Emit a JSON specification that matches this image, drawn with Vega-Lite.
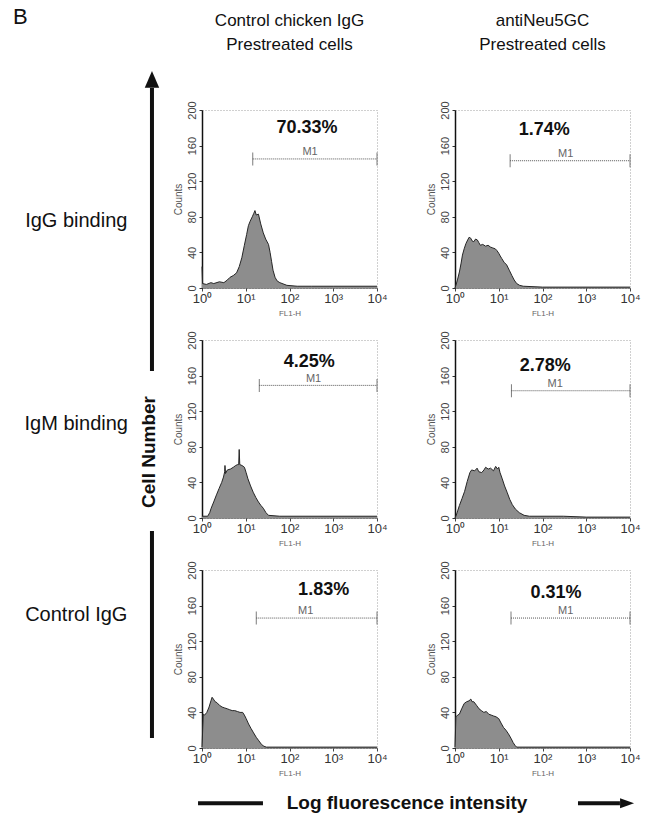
{
"$schema": "https://vega.github.io/schema/vega-lite/v6.json",
"background": "white",
"padding": {"left": 13, "top": 6, "right": 3, "bottom": 2},
"config": {"font": "Liberation Sans", "view": {"stroke": "#a0a0a0", "strokeDash": [1, 2]}, "axis": {"grid": false, "labelOverlap": false, "tickCount": 10}},
"datasets": {
"hist": [
{"p":1,"fl":1,"n":24},{"p":1,"fl":1.03,"n":5},{"p":1,"fl":1.26,"n":4},{"p":1,"fl":1.6,"n":6},{"p":1,"fl":1.86,"n":5},{"p":1,"fl":2.5,"n":7},{"p":1,"fl":3.16,"n":6},{"p":1,"fl":3.8,"n":9},{"p":1,"fl":4.37,"n":12},{"p":1,"fl":5.2,"n":14},{"p":1,"fl":6.17,"n":17},{"p":1,"fl":7.1,"n":24},{"p":1,"fl":8.13,"n":34},{"p":1,"fl":9.3,"n":48},{"p":1,"fl":10.47,"n":60},{"p":1,"fl":11.5,"n":70},{"p":1,"fl":12.59,"n":75},{"p":1,"fl":14.1,"n":80},{"p":1,"fl":15.3,"n":84},{"p":1,"fl":16.22,"n":87},{"p":1,"fl":17.4,"n":82},{"p":1,"fl":19.5,"n":83},{"p":1,"fl":22,"n":72},{"p":1,"fl":25.12,"n":62},{"p":1,"fl":28.5,"n":55},{"p":1,"fl":33.11,"n":49},{"p":1,"fl":36,"n":40},{"p":1,"fl":38.9,"n":30},{"p":1,"fl":42,"n":20},{"p":1,"fl":46.77,"n":12},{"p":1,"fl":52,"n":8},{"p":1,"fl":60.26,"n":6},{"p":1,"fl":87.1,"n":3},{"p":1,"fl":150,"n":2},{"p":1,"fl":316,"n":2},{"p":1,"fl":1000,"n":2},{"p":1,"fl":10000,"n":2},
{"p":2,"fl":1,"n":0},{"p":2,"fl":1.05,"n":3},{"p":2,"fl":1.15,"n":10},{"p":2,"fl":1.26,"n":18},{"p":2,"fl":1.38,"n":28},{"p":2,"fl":1.48,"n":37},{"p":2,"fl":1.62,"n":44},{"p":2,"fl":1.78,"n":50},{"p":2,"fl":1.95,"n":54},{"p":2,"fl":2.1,"n":57},{"p":2,"fl":2.29,"n":56},{"p":2,"fl":2.45,"n":53},{"p":2,"fl":2.69,"n":52},{"p":2,"fl":2.95,"n":55},{"p":2,"fl":3.24,"n":54},{"p":2,"fl":3.5,"n":51},{"p":2,"fl":3.8,"n":48},{"p":2,"fl":4.3,"n":49},{"p":2,"fl":5.0,"n":47},{"p":2,"fl":5.7,"n":48},{"p":2,"fl":6.46,"n":46},{"p":2,"fl":7.3,"n":45},{"p":2,"fl":8.32,"n":44},{"p":2,"fl":9.1,"n":42},{"p":2,"fl":10,"n":39},{"p":2,"fl":10.8,"n":36},{"p":2,"fl":11.75,"n":33},{"p":2,"fl":13.2,"n":29},{"p":2,"fl":15.14,"n":26},{"p":2,"fl":17.4,"n":20},{"p":2,"fl":19.95,"n":14},{"p":2,"fl":22.5,"n":9},{"p":2,"fl":25.7,"n":5},{"p":2,"fl":30,"n":3},{"p":2,"fl":36.3,"n":2},{"p":2,"fl":100,"n":1},{"p":2,"fl":10000,"n":1},
{"p":3,"fl":1,"n":2},{"p":3,"fl":1.35,"n":2},{"p":3,"fl":1.5,"n":6},{"p":3,"fl":1.62,"n":11},{"p":3,"fl":1.85,"n":18},{"p":3,"fl":2.14,"n":26},{"p":3,"fl":2.45,"n":33},{"p":3,"fl":2.82,"n":40},{"p":3,"fl":3.1,"n":46},{"p":3,"fl":3.3,"n":52},{"p":3,"fl":3.35,"n":59},{"p":3,"fl":3.45,"n":50},{"p":3,"fl":3.8,"n":54},{"p":3,"fl":4.47,"n":55},{"p":3,"fl":5.2,"n":57},{"p":3,"fl":5.89,"n":59},{"p":3,"fl":6.5,"n":60},{"p":3,"fl":6.9,"n":60},{"p":3,"fl":7.08,"n":77},{"p":3,"fl":7.3,"n":60},{"p":3,"fl":8.2,"n":59},{"p":3,"fl":9.33,"n":57},{"p":3,"fl":10.2,"n":51},{"p":3,"fl":11.22,"n":44},{"p":3,"fl":12.9,"n":36},{"p":3,"fl":14.79,"n":29},{"p":3,"fl":17,"n":23},{"p":3,"fl":19.5,"n":18},{"p":3,"fl":22.3,"n":14},{"p":3,"fl":25.12,"n":11},{"p":3,"fl":29,"n":6},{"p":3,"fl":33.11,"n":3},{"p":3,"fl":60,"n":2},{"p":3,"fl":10000,"n":2},
{"p":4,"fl":1,"n":0},{"p":4,"fl":1.05,"n":2},{"p":4,"fl":1.15,"n":8},{"p":4,"fl":1.26,"n":14},{"p":4,"fl":1.45,"n":22},{"p":4,"fl":1.66,"n":30},{"p":4,"fl":1.9,"n":41},{"p":4,"fl":2.19,"n":51},{"p":4,"fl":2.4,"n":54},{"p":4,"fl":2.82,"n":53},{"p":4,"fl":3.2,"n":56},{"p":4,"fl":3.5,"n":52},{"p":4,"fl":4.07,"n":51},{"p":4,"fl":4.6,"n":54},{"p":4,"fl":5.0,"n":57},{"p":4,"fl":5.75,"n":55},{"p":4,"fl":6.5,"n":56},{"p":4,"fl":7.59,"n":53},{"p":4,"fl":8.5,"n":58},{"p":4,"fl":9.4,"n":55},{"p":4,"fl":10,"n":57},{"p":4,"fl":10.7,"n":51},{"p":4,"fl":12.02,"n":44},{"p":4,"fl":13.6,"n":36},{"p":4,"fl":15.49,"n":29},{"p":4,"fl":17.8,"n":21},{"p":4,"fl":20.42,"n":15},{"p":4,"fl":24,"n":10},{"p":4,"fl":29.51,"n":6},{"p":4,"fl":38,"n":3},{"p":4,"fl":50.12,"n":2},{"p":4,"fl":300,"n":2},{"p":4,"fl":1000,"n":1},{"p":4,"fl":10000,"n":1},
{"p":5,"fl":1,"n":1},{"p":5,"fl":1.07,"n":38},{"p":5,"fl":1.15,"n":37},{"p":5,"fl":1.29,"n":40},{"p":5,"fl":1.45,"n":46},{"p":5,"fl":1.6,"n":53},{"p":5,"fl":1.7,"n":57},{"p":5,"fl":1.82,"n":55},{"p":5,"fl":2.0,"n":52},{"p":5,"fl":2.19,"n":51},{"p":5,"fl":2.5,"n":48},{"p":5,"fl":2.88,"n":46},{"p":5,"fl":3.3,"n":45},{"p":5,"fl":3.8,"n":44},{"p":5,"fl":4.3,"n":43},{"p":5,"fl":4.9,"n":42},{"p":5,"fl":5.6,"n":42},{"p":5,"fl":6.46,"n":41},{"p":5,"fl":7.4,"n":40},{"p":5,"fl":8.51,"n":40},{"p":5,"fl":9.3,"n":37},{"p":5,"fl":10.23,"n":33},{"p":5,"fl":11.6,"n":27},{"p":5,"fl":13.18,"n":22},{"p":5,"fl":15.1,"n":17},{"p":5,"fl":17.38,"n":12},{"p":5,"fl":20,"n":8},{"p":5,"fl":22.91,"n":4},{"p":5,"fl":26,"n":2},{"p":5,"fl":29.51,"n":1},{"p":5,"fl":10000,"n":1},
{"p":6,"fl":1,"n":1},{"p":6,"fl":1.05,"n":35},{"p":6,"fl":1.15,"n":37},{"p":6,"fl":1.26,"n":38},{"p":6,"fl":1.42,"n":44},{"p":6,"fl":1.62,"n":50},{"p":6,"fl":1.85,"n":52},{"p":6,"fl":2.09,"n":53},{"p":6,"fl":2.3,"n":55},{"p":6,"fl":2.45,"n":52},{"p":6,"fl":2.69,"n":52},{"p":6,"fl":3.1,"n":48},{"p":6,"fl":3.55,"n":44},{"p":6,"fl":4.0,"n":42},{"p":6,"fl":4.57,"n":40},{"p":6,"fl":5.2,"n":41},{"p":6,"fl":5.89,"n":38},{"p":6,"fl":6.7,"n":37},{"p":6,"fl":7.59,"n":36},{"p":6,"fl":8.7,"n":35},{"p":6,"fl":10,"n":33},{"p":6,"fl":11.3,"n":28},{"p":6,"fl":12.88,"n":23},{"p":6,"fl":14.6,"n":20},{"p":6,"fl":16.6,"n":16},{"p":6,"fl":19,"n":11},{"p":6,"fl":21.38,"n":6},{"p":6,"fl":23.5,"n":3},{"p":6,"fl":25.7,"n":1},{"p":6,"fl":10000,"n":1}
],
"gate": [
{"p":1,"start":14.45,"end":10000,"lvl":145,"m1At":295,"pctAt":251,"pctY":180,"pct":"70.33%"},
{"p":2,"start":18.2,"end":10000,"lvl":143,"m1At":339,"pctAt":110,"pctY":177,"pct":"1.74%"},
{"p":3,"start":20.4,"end":10000,"lvl":149,"m1At":355,"pctAt":282,"pctY":175,"pct":"4.25%"},
{"p":4,"start":19.5,"end":10000,"lvl":143,"m1At":195,"pctAt":115,"pctY":171,"pct":"2.78%"},
{"p":5,"start":17.4,"end":10000,"lvl":146,"m1At":234,"pctAt":603,"pctY":178,"pct":"1.83%"},
{"p":6,"start":19.05,"end":10000,"lvl":146,"m1At":339,"pctAt":204,"pctY":174,"pct":"0.31%"}
]
},
"columns": 3,
"bounds": "flush",
"spacing": {"row": 52, "column": 78},
"concat": [
{"width": 111, "height": 178, "view": {"stroke": null}, "data": {"values": [{}]},
 "layer": [
  {"mark": {"type": "text", "fontSize": 20, "color": "#111"}, "encoding": {"x": {"datum": 0.57, "type": "quantitative", "scale": {"domain": [0, 1]}, "axis": null}, "y": {"datum": 0.376, "type": "quantitative", "scale": {"domain": [0, 1]}, "axis": null}, "text": {"value": "IgG binding"}}},
  {"mark": {"type": "text", "fontSize": 22, "color": "#111", "align": "left"}, "encoding": {"x": {"datum": 0, "type": "quantitative", "scale": {"domain": [0, 1]}, "axis": null}, "y": {"datum": 1.522, "type": "quantitative", "scale": {"domain": [0, 1]}, "axis": null}, "text": {"value": "B"}}},
  {"mark": {"type": "rule", "color": "#111", "strokeWidth": 4}, "encoding": {"x": {"datum": 1.252, "type": "quantitative", "scale": {"domain": [0, 1]}, "axis": null}, "y": {"datum": 1.124, "type": "quantitative", "scale": {"domain": [0, 1]}, "axis": null}, "y2": {"datum": -0.466}}},
  {"mark": {"type": "point", "shape": "M0,-0.7L0.6,0.7L-0.6,0.7Z", "filled": true, "color": "#111", "opacity": 1, "size": 576}, "encoding": {"x": {"datum": 1.252, "type": "quantitative", "scale": {"domain": [0, 1]}, "axis": null}, "y": {"datum": 1.172, "type": "quantitative", "scale": {"domain": [0, 1]}, "axis": null}}}
 ]},
{"width": 175, "height": 178,
 "title": {"text": ["Control chicken IgG", "Prestreated cells"], "fontSize": 17, "fontWeight": "normal", "color": "#111", "lineHeight": 24, "offset": 47},
 "layer": [
  {"data": {"name": "hist"}, "transform": [{"filter": "datum.p == 1"}],
   "mark": {"type": "area", "color": "#8d8d8d", "opacity": 1, "line": {"color": "#262626", "strokeWidth": 1}},
   "encoding": {
    "x": {"field": "fl", "type": "quantitative", "scale": {"type": "log", "domain": [1, 10000]}, "axis": {"values": [1, 10, 100, 1000, 10000], "tickCount": 10, "labelExpr": "'10' + ['⁰','¹','²','³','⁴'][round(log(datum.value)/LN10)]", "title": "FL1-H", "titleFontSize": 8, "titleColor": "#666", "titleFontWeight": "normal", "titlePadding": 4, "labelFontSize": 13, "labelColor": "#333", "labelPadding": 1, "labelFlush": false, "labelOverlap": false, "tickSize": 3, "tickColor": "#444", "domainColor": "#333", "domainDash": [1, 1]}},
    "y": {"field": "n", "type": "quantitative", "scale": {"domain": [0, 200]}, "axis": {"values": [0, 40, 80, 120, 160, 200], "tickCount": 10, "title": "Counts", "titleFontSize": 10, "titleColor": "#555", "titleFontWeight": "normal", "titlePadding": 3, "labelAngle": -90, "labelAlign": "center", "labelBaseline": "bottom", "labelFontSize": 11, "labelColor": "#444", "labelPadding": 2, "labelFlush": false, "labelOverlap": false, "labelBound": false, "tickSize": 3, "tickColor": "#333", "domainColor": "#111", "domainWidth": 1.5}}
   }},
  {"data": {"name": "gate"}, "transform": [{"filter": "datum.p == 1"}],
   "layer": [
    {"mark": {"type": "rule", "color": "#555", "strokeDash": [1, 1]}, "encoding": {"x": {"field": "start", "type": "quantitative", "scale": {"type": "log", "domain": [1, 10000]}}, "x2": {"field": "end"}, "y": {"field": "lvl", "type": "quantitative", "scale": {"domain": [0, 200]}}}},
    {"mark": {"type": "tick", "orient": "vertical", "color": "#444", "size": 13, "thickness": 1}, "encoding": {"x": {"field": "start", "type": "quantitative", "scale": {"type": "log", "domain": [1, 10000]}}, "y": {"field": "lvl", "type": "quantitative", "scale": {"domain": [0, 200]}}}},
    {"mark": {"type": "tick", "orient": "vertical", "color": "#444", "size": 13, "thickness": 1}, "encoding": {"x": {"field": "end", "type": "quantitative", "scale": {"type": "log", "domain": [1, 10000]}}, "y": {"field": "lvl", "type": "quantitative", "scale": {"domain": [0, 200]}}}},
    {"mark": {"type": "text", "fontSize": 11, "color": "#666", "baseline": "bottom", "dy": -2}, "encoding": {"x": {"field": "m1At", "type": "quantitative", "scale": {"type": "log", "domain": [1, 10000]}}, "y": {"field": "lvl", "type": "quantitative", "scale": {"domain": [0, 200]}}, "text": {"value": "M1"}}},
    {"mark": {"type": "text", "fontSize": 18, "fontWeight": "bold", "color": "#111"}, "encoding": {"x": {"field": "pctAt", "type": "quantitative", "scale": {"type": "log", "domain": [1, 10000]}}, "y": {"field": "pctY", "type": "quantitative", "scale": {"domain": [0, 200]}}, "text": {"field": "pct"}}}
   ]}
 ]},
{"width": 175, "height": 178,
 "title": {"text": ["antiNeu5GC", "Prestreated cells"], "fontSize": 17, "fontWeight": "normal", "color": "#111", "lineHeight": 24, "offset": 47},
 "layer": [
  {"data": {"name": "hist"}, "transform": [{"filter": "datum.p == 2"}],
   "mark": {"type": "area", "color": "#8d8d8d", "opacity": 1, "line": {"color": "#262626", "strokeWidth": 1}},
   "encoding": {
    "x": {"field": "fl", "type": "quantitative", "scale": {"type": "log", "domain": [1, 10000]}, "axis": {"values": [1, 10, 100, 1000, 10000], "tickCount": 10, "labelExpr": "'10' + ['⁰','¹','²','³','⁴'][round(log(datum.value)/LN10)]", "title": "FL1-H", "titleFontSize": 8, "titleColor": "#666", "titleFontWeight": "normal", "titlePadding": 4, "labelFontSize": 13, "labelColor": "#333", "labelPadding": 1, "labelFlush": false, "labelOverlap": false, "tickSize": 3, "tickColor": "#444", "domainColor": "#333", "domainDash": [1, 1]}},
    "y": {"field": "n", "type": "quantitative", "scale": {"domain": [0, 200]}, "axis": {"values": [0, 40, 80, 120, 160, 200], "tickCount": 10, "title": "Counts", "titleFontSize": 10, "titleColor": "#555", "titleFontWeight": "normal", "titlePadding": 3, "labelAngle": -90, "labelAlign": "center", "labelBaseline": "bottom", "labelFontSize": 11, "labelColor": "#444", "labelPadding": 2, "labelFlush": false, "labelOverlap": false, "labelBound": false, "tickSize": 3, "tickColor": "#333", "domainColor": "#111", "domainWidth": 1.5}}
   }},
  {"data": {"name": "gate"}, "transform": [{"filter": "datum.p == 2"}],
   "layer": [
    {"mark": {"type": "rule", "color": "#555", "strokeDash": [1, 1]}, "encoding": {"x": {"field": "start", "type": "quantitative", "scale": {"type": "log", "domain": [1, 10000]}}, "x2": {"field": "end"}, "y": {"field": "lvl", "type": "quantitative", "scale": {"domain": [0, 200]}}}},
    {"mark": {"type": "tick", "orient": "vertical", "color": "#444", "size": 13, "thickness": 1}, "encoding": {"x": {"field": "start", "type": "quantitative", "scale": {"type": "log", "domain": [1, 10000]}}, "y": {"field": "lvl", "type": "quantitative", "scale": {"domain": [0, 200]}}}},
    {"mark": {"type": "tick", "orient": "vertical", "color": "#444", "size": 13, "thickness": 1}, "encoding": {"x": {"field": "end", "type": "quantitative", "scale": {"type": "log", "domain": [1, 10000]}}, "y": {"field": "lvl", "type": "quantitative", "scale": {"domain": [0, 200]}}}},
    {"mark": {"type": "text", "fontSize": 11, "color": "#666", "baseline": "bottom", "dy": -2}, "encoding": {"x": {"field": "m1At", "type": "quantitative", "scale": {"type": "log", "domain": [1, 10000]}}, "y": {"field": "lvl", "type": "quantitative", "scale": {"domain": [0, 200]}}, "text": {"value": "M1"}}},
    {"mark": {"type": "text", "fontSize": 18, "fontWeight": "bold", "color": "#111"}, "encoding": {"x": {"field": "pctAt", "type": "quantitative", "scale": {"type": "log", "domain": [1, 10000]}}, "y": {"field": "pctY", "type": "quantitative", "scale": {"domain": [0, 200]}}, "text": {"field": "pct"}}}
   ]}
 ]},
{"width": 111, "height": 178, "view": {"stroke": null}, "data": {"values": [{}]},
 "layer": [
  {"mark": {"type": "text", "fontSize": 20, "color": "#111"}, "encoding": {"x": {"datum": 0.57, "type": "quantitative", "scale": {"domain": [0, 1]}, "axis": null}, "y": {"datum": 0.528, "type": "quantitative", "scale": {"domain": [0, 1]}, "axis": null}, "text": {"value": "IgM binding"}}},
  {"mark": {"type": "text", "fontSize": 19, "fontWeight": "bold", "color": "#111", "angle": 270}, "encoding": {"x": {"datum": 1.225, "type": "quantitative", "scale": {"domain": [0, 1]}, "axis": null}, "y": {"datum": 0.371, "type": "quantitative", "scale": {"domain": [0, 1]}, "axis": null}, "text": {"value": "Cell Number"}}}
 ]},
{"width": 175, "height": 178,
 "layer": [
  {"data": {"name": "hist"}, "transform": [{"filter": "datum.p == 3"}],
   "mark": {"type": "area", "color": "#8d8d8d", "opacity": 1, "line": {"color": "#262626", "strokeWidth": 1}},
   "encoding": {
    "x": {"field": "fl", "type": "quantitative", "scale": {"type": "log", "domain": [1, 10000]}, "axis": {"values": [1, 10, 100, 1000, 10000], "tickCount": 10, "labelExpr": "'10' + ['⁰','¹','²','³','⁴'][round(log(datum.value)/LN10)]", "title": "FL1-H", "titleFontSize": 8, "titleColor": "#666", "titleFontWeight": "normal", "titlePadding": 4, "labelFontSize": 13, "labelColor": "#333", "labelPadding": 1, "labelFlush": false, "labelOverlap": false, "tickSize": 3, "tickColor": "#444", "domainColor": "#333", "domainDash": [1, 1]}},
    "y": {"field": "n", "type": "quantitative", "scale": {"domain": [0, 200]}, "axis": {"values": [0, 40, 80, 120, 160, 200], "tickCount": 10, "title": "Counts", "titleFontSize": 10, "titleColor": "#555", "titleFontWeight": "normal", "titlePadding": 3, "labelAngle": -90, "labelAlign": "center", "labelBaseline": "bottom", "labelFontSize": 11, "labelColor": "#444", "labelPadding": 2, "labelFlush": false, "labelOverlap": false, "labelBound": false, "tickSize": 3, "tickColor": "#333", "domainColor": "#111", "domainWidth": 1.5}}
   }},
  {"data": {"name": "gate"}, "transform": [{"filter": "datum.p == 3"}],
   "layer": [
    {"mark": {"type": "rule", "color": "#555", "strokeDash": [1, 1]}, "encoding": {"x": {"field": "start", "type": "quantitative", "scale": {"type": "log", "domain": [1, 10000]}}, "x2": {"field": "end"}, "y": {"field": "lvl", "type": "quantitative", "scale": {"domain": [0, 200]}}}},
    {"mark": {"type": "tick", "orient": "vertical", "color": "#444", "size": 13, "thickness": 1}, "encoding": {"x": {"field": "start", "type": "quantitative", "scale": {"type": "log", "domain": [1, 10000]}}, "y": {"field": "lvl", "type": "quantitative", "scale": {"domain": [0, 200]}}}},
    {"mark": {"type": "tick", "orient": "vertical", "color": "#444", "size": 13, "thickness": 1}, "encoding": {"x": {"field": "end", "type": "quantitative", "scale": {"type": "log", "domain": [1, 10000]}}, "y": {"field": "lvl", "type": "quantitative", "scale": {"domain": [0, 200]}}}},
    {"mark": {"type": "text", "fontSize": 11, "color": "#666", "baseline": "bottom", "dy": -1}, "encoding": {"x": {"field": "m1At", "type": "quantitative", "scale": {"type": "log", "domain": [1, 10000]}}, "y": {"field": "lvl", "type": "quantitative", "scale": {"domain": [0, 200]}}, "text": {"value": "M1"}}},
    {"mark": {"type": "text", "fontSize": 18, "fontWeight": "bold", "color": "#111"}, "encoding": {"x": {"field": "pctAt", "type": "quantitative", "scale": {"type": "log", "domain": [1, 10000]}}, "y": {"field": "pctY", "type": "quantitative", "scale": {"domain": [0, 200]}}, "text": {"field": "pct"}}}
   ]}
 ]},
{"width": 175, "height": 178,
 "layer": [
  {"data": {"name": "hist"}, "transform": [{"filter": "datum.p == 4"}],
   "mark": {"type": "area", "color": "#8d8d8d", "opacity": 1, "line": {"color": "#262626", "strokeWidth": 1}},
   "encoding": {
    "x": {"field": "fl", "type": "quantitative", "scale": {"type": "log", "domain": [1, 10000]}, "axis": {"values": [1, 10, 100, 1000, 10000], "tickCount": 10, "labelExpr": "'10' + ['⁰','¹','²','³','⁴'][round(log(datum.value)/LN10)]", "title": "FL1-H", "titleFontSize": 8, "titleColor": "#666", "titleFontWeight": "normal", "titlePadding": 4, "labelFontSize": 13, "labelColor": "#333", "labelPadding": 1, "labelFlush": false, "labelOverlap": false, "tickSize": 3, "tickColor": "#444", "domainColor": "#333", "domainDash": [1, 1]}},
    "y": {"field": "n", "type": "quantitative", "scale": {"domain": [0, 200]}, "axis": {"values": [0, 40, 80, 120, 160, 200], "tickCount": 10, "title": "Counts", "titleFontSize": 10, "titleColor": "#555", "titleFontWeight": "normal", "titlePadding": 3, "labelAngle": -90, "labelAlign": "center", "labelBaseline": "bottom", "labelFontSize": 11, "labelColor": "#444", "labelPadding": 2, "labelFlush": false, "labelOverlap": false, "labelBound": false, "tickSize": 3, "tickColor": "#333", "domainColor": "#111", "domainWidth": 1.5}}
   }},
  {"data": {"name": "gate"}, "transform": [{"filter": "datum.p == 4"}],
   "layer": [
    {"mark": {"type": "rule", "color": "#555", "strokeDash": [1, 1]}, "encoding": {"x": {"field": "start", "type": "quantitative", "scale": {"type": "log", "domain": [1, 10000]}}, "x2": {"field": "end"}, "y": {"field": "lvl", "type": "quantitative", "scale": {"domain": [0, 200]}}}},
    {"mark": {"type": "tick", "orient": "vertical", "color": "#444", "size": 13, "thickness": 1}, "encoding": {"x": {"field": "start", "type": "quantitative", "scale": {"type": "log", "domain": [1, 10000]}}, "y": {"field": "lvl", "type": "quantitative", "scale": {"domain": [0, 200]}}}},
    {"mark": {"type": "tick", "orient": "vertical", "color": "#444", "size": 13, "thickness": 1}, "encoding": {"x": {"field": "end", "type": "quantitative", "scale": {"type": "log", "domain": [1, 10000]}}, "y": {"field": "lvl", "type": "quantitative", "scale": {"domain": [0, 200]}}}},
    {"mark": {"type": "text", "fontSize": 11, "color": "#666", "baseline": "bottom", "dy": -2}, "encoding": {"x": {"field": "m1At", "type": "quantitative", "scale": {"type": "log", "domain": [1, 10000]}}, "y": {"field": "lvl", "type": "quantitative", "scale": {"domain": [0, 200]}}, "text": {"value": "M1"}}},
    {"mark": {"type": "text", "fontSize": 18, "fontWeight": "bold", "color": "#111"}, "encoding": {"x": {"field": "pctAt", "type": "quantitative", "scale": {"type": "log", "domain": [1, 10000]}}, "y": {"field": "pctY", "type": "quantitative", "scale": {"domain": [0, 200]}}, "text": {"field": "pct"}}}
   ]}
 ]},
{"width": 111, "height": 178, "view": {"stroke": null}, "data": {"values": [{}]},
 "layer": [
  {"mark": {"type": "text", "fontSize": 20, "color": "#111"}, "encoding": {"x": {"datum": 0.57, "type": "quantitative", "scale": {"domain": [0, 1]}, "axis": null}, "y": {"datum": 0.747, "type": "quantitative", "scale": {"domain": [0, 1]}, "axis": null}, "text": {"value": "Control IgG"}}},
  {"mark": {"type": "rule", "color": "#111", "strokeWidth": 4}, "encoding": {"x": {"datum": 1.252, "type": "quantitative", "scale": {"domain": [0, 1]}, "axis": null}, "y": {"datum": 1.219, "type": "quantitative", "scale": {"domain": [0, 1]}, "axis": null}, "y2": {"datum": 0.056}}},
  {"mark": {"type": "rule", "color": "#111", "strokeWidth": 4}, "encoding": {"x": {"datum": 1.667, "type": "quantitative", "scale": {"domain": [0, 1]}, "axis": null}, "x2": {"datum": 2.252}, "y": {"datum": -0.31, "type": "quantitative", "scale": {"domain": [0, 1]}, "axis": null}}},
  {"mark": {"type": "text", "fontSize": 19, "fontWeight": "bold", "color": "#111"}, "encoding": {"x": {"datum": 3.55, "type": "quantitative", "scale": {"domain": [0, 1]}, "axis": null}, "y": {"datum": -0.31, "type": "quantitative", "scale": {"domain": [0, 1]}, "axis": null}, "text": {"value": "Log fluorescence intensity"}}},
  {"mark": {"type": "rule", "color": "#111", "strokeWidth": 4}, "encoding": {"x": {"datum": 5.09, "type": "quantitative", "scale": {"domain": [0, 1]}, "axis": null}, "x2": {"datum": 5.468}, "y": {"datum": -0.31, "type": "quantitative", "scale": {"domain": [0, 1]}, "axis": null}}},
  {"mark": {"type": "point", "shape": "M0.7,0L-0.7,-0.5L-0.7,0.5Z", "filled": true, "color": "#111", "opacity": 1, "size": 400}, "encoding": {"x": {"datum": 5.532, "type": "quantitative", "scale": {"domain": [0, 1]}, "axis": null}, "y": {"datum": -0.31, "type": "quantitative", "scale": {"domain": [0, 1]}, "axis": null}}}
 ]},
{"width": 175, "height": 178,
 "layer": [
  {"data": {"name": "hist"}, "transform": [{"filter": "datum.p == 5"}],
   "mark": {"type": "area", "color": "#8d8d8d", "opacity": 1, "line": {"color": "#262626", "strokeWidth": 1}},
   "encoding": {
    "x": {"field": "fl", "type": "quantitative", "scale": {"type": "log", "domain": [1, 10000]}, "axis": {"values": [1, 10, 100, 1000, 10000], "tickCount": 10, "labelExpr": "'10' + ['⁰','¹','²','³','⁴'][round(log(datum.value)/LN10)]", "title": "FL1-H", "titleFontSize": 8, "titleColor": "#666", "titleFontWeight": "normal", "titlePadding": 4, "labelFontSize": 13, "labelColor": "#333", "labelPadding": 1, "labelFlush": false, "labelOverlap": false, "tickSize": 3, "tickColor": "#444", "domainColor": "#333", "domainDash": [1, 1]}},
    "y": {"field": "n", "type": "quantitative", "scale": {"domain": [0, 200]}, "axis": {"values": [0, 40, 80, 120, 160, 200], "tickCount": 10, "title": "Counts", "titleFontSize": 10, "titleColor": "#555", "titleFontWeight": "normal", "titlePadding": 3, "labelAngle": -90, "labelAlign": "center", "labelBaseline": "bottom", "labelFontSize": 11, "labelColor": "#444", "labelPadding": 2, "labelFlush": false, "labelOverlap": false, "labelBound": false, "tickSize": 3, "tickColor": "#333", "domainColor": "#111", "domainWidth": 1.5}}
   }},
  {"data": {"name": "gate"}, "transform": [{"filter": "datum.p == 5"}],
   "layer": [
    {"mark": {"type": "rule", "color": "#555", "strokeDash": [1, 1]}, "encoding": {"x": {"field": "start", "type": "quantitative", "scale": {"type": "log", "domain": [1, 10000]}}, "x2": {"field": "end"}, "y": {"field": "lvl", "type": "quantitative", "scale": {"domain": [0, 200]}}}},
    {"mark": {"type": "tick", "orient": "vertical", "color": "#444", "size": 13, "thickness": 1}, "encoding": {"x": {"field": "start", "type": "quantitative", "scale": {"type": "log", "domain": [1, 10000]}}, "y": {"field": "lvl", "type": "quantitative", "scale": {"domain": [0, 200]}}}},
    {"mark": {"type": "tick", "orient": "vertical", "color": "#444", "size": 13, "thickness": 1}, "encoding": {"x": {"field": "end", "type": "quantitative", "scale": {"type": "log", "domain": [1, 10000]}}, "y": {"field": "lvl", "type": "quantitative", "scale": {"domain": [0, 200]}}}},
    {"mark": {"type": "text", "fontSize": 11, "color": "#666", "baseline": "bottom", "dy": -2}, "encoding": {"x": {"field": "m1At", "type": "quantitative", "scale": {"type": "log", "domain": [1, 10000]}}, "y": {"field": "lvl", "type": "quantitative", "scale": {"domain": [0, 200]}}, "text": {"value": "M1"}}},
    {"mark": {"type": "text", "fontSize": 18, "fontWeight": "bold", "color": "#111"}, "encoding": {"x": {"field": "pctAt", "type": "quantitative", "scale": {"type": "log", "domain": [1, 10000]}}, "y": {"field": "pctY", "type": "quantitative", "scale": {"domain": [0, 200]}}, "text": {"field": "pct"}}}
   ]}
 ]},
{"width": 175, "height": 178,
 "layer": [
  {"data": {"name": "hist"}, "transform": [{"filter": "datum.p == 6"}],
   "mark": {"type": "area", "color": "#8d8d8d", "opacity": 1, "line": {"color": "#262626", "strokeWidth": 1}},
   "encoding": {
    "x": {"field": "fl", "type": "quantitative", "scale": {"type": "log", "domain": [1, 10000]}, "axis": {"values": [1, 10, 100, 1000, 10000], "tickCount": 10, "labelExpr": "'10' + ['⁰','¹','²','³','⁴'][round(log(datum.value)/LN10)]", "title": "FL1-H", "titleFontSize": 8, "titleColor": "#666", "titleFontWeight": "normal", "titlePadding": 4, "labelFontSize": 13, "labelColor": "#333", "labelPadding": 1, "labelFlush": false, "labelOverlap": false, "tickSize": 3, "tickColor": "#444", "domainColor": "#333", "domainDash": [1, 1]}},
    "y": {"field": "n", "type": "quantitative", "scale": {"domain": [0, 200]}, "axis": {"values": [0, 40, 80, 120, 160, 200], "tickCount": 10, "title": "Counts", "titleFontSize": 10, "titleColor": "#555", "titleFontWeight": "normal", "titlePadding": 3, "labelAngle": -90, "labelAlign": "center", "labelBaseline": "bottom", "labelFontSize": 11, "labelColor": "#444", "labelPadding": 2, "labelFlush": false, "labelOverlap": false, "labelBound": false, "tickSize": 3, "tickColor": "#333", "domainColor": "#111", "domainWidth": 1.5}}
   }},
  {"data": {"name": "gate"}, "transform": [{"filter": "datum.p == 6"}],
   "layer": [
    {"mark": {"type": "rule", "color": "#555", "strokeDash": [1, 1]}, "encoding": {"x": {"field": "start", "type": "quantitative", "scale": {"type": "log", "domain": [1, 10000]}}, "x2": {"field": "end"}, "y": {"field": "lvl", "type": "quantitative", "scale": {"domain": [0, 200]}}}},
    {"mark": {"type": "tick", "orient": "vertical", "color": "#444", "size": 13, "thickness": 1}, "encoding": {"x": {"field": "start", "type": "quantitative", "scale": {"type": "log", "domain": [1, 10000]}}, "y": {"field": "lvl", "type": "quantitative", "scale": {"domain": [0, 200]}}}},
    {"mark": {"type": "tick", "orient": "vertical", "color": "#444", "size": 13, "thickness": 1}, "encoding": {"x": {"field": "end", "type": "quantitative", "scale": {"type": "log", "domain": [1, 10000]}}, "y": {"field": "lvl", "type": "quantitative", "scale": {"domain": [0, 200]}}}},
    {"mark": {"type": "text", "fontSize": 11, "color": "#666", "baseline": "bottom", "dy": -2}, "encoding": {"x": {"field": "m1At", "type": "quantitative", "scale": {"type": "log", "domain": [1, 10000]}}, "y": {"field": "lvl", "type": "quantitative", "scale": {"domain": [0, 200]}}, "text": {"value": "M1"}}},
    {"mark": {"type": "text", "fontSize": 18, "fontWeight": "bold", "color": "#111"}, "encoding": {"x": {"field": "pctAt", "type": "quantitative", "scale": {"type": "log", "domain": [1, 10000]}}, "y": {"field": "pctY", "type": "quantitative", "scale": {"domain": [0, 200]}}, "text": {"field": "pct"}}}
   ]}
 ]}
]
}
